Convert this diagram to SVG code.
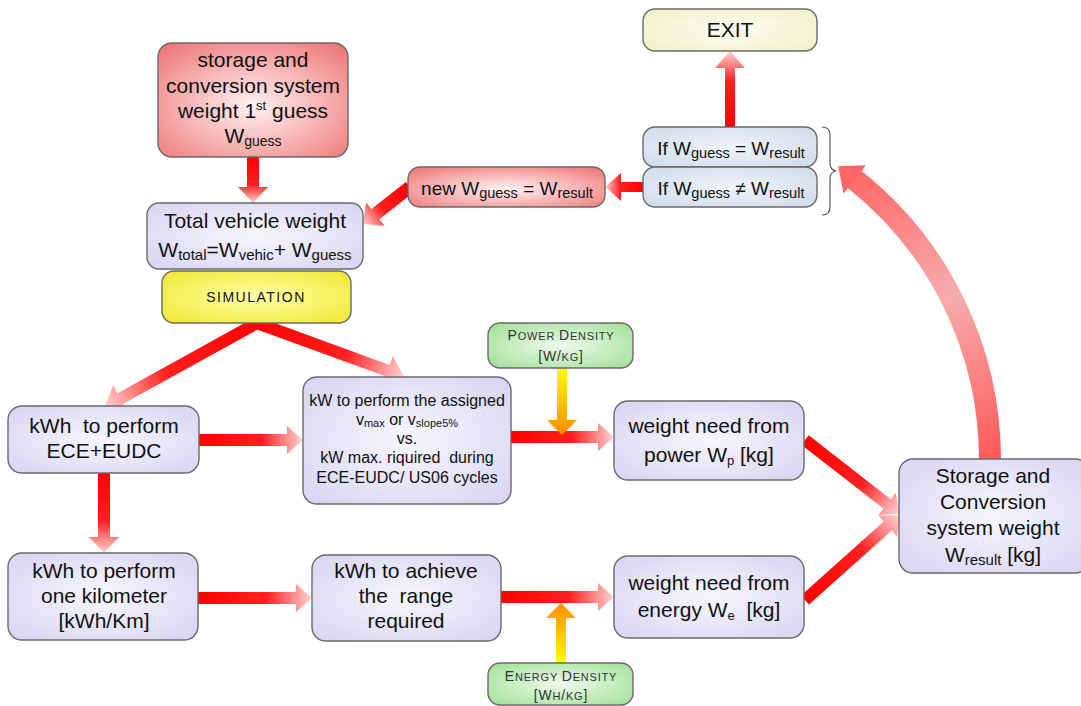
<svg xmlns="http://www.w3.org/2000/svg" width="1081" height="706" viewBox="0 0 1081 706">
<style>
text{font-family:"Liberation Sans",Arial,sans-serif;fill:#111;text-anchor:middle}
.t21{font-size:21px}
.t19{font-size:19px}
.t16{font-size:16px}
.sc{font-size:14px;fill:#333;letter-spacing:0.8px}
.box{stroke:#6a6a6a;stroke-width:1.4}
.lav{fill:url(#gLav)}
.red{fill:url(#gRed)}
.blu{fill:url(#gBlu)}
.grn{fill:url(#gGrn)}
.ra{fill:url(#gArr)}
.ya{fill:url(#gYel)}
</style>
<defs>
<radialGradient id="gLav" cx="50%" cy="50%" r="70%"><stop offset="0" stop-color="#f8f7fe"/><stop offset="1" stop-color="#d6d4f2"/></radialGradient>
<radialGradient id="gRed" cx="50%" cy="55%" r="70%"><stop offset="0" stop-color="#fff1f1"/><stop offset="0.55" stop-color="#f7b0b0"/><stop offset="1" stop-color="#ee7676"/></radialGradient>
<radialGradient id="gBlu" cx="50%" cy="50%" r="70%"><stop offset="0" stop-color="#f0f3f9"/><stop offset="1" stop-color="#cfdbea"/></radialGradient>
<radialGradient id="gGrn" cx="50%" cy="50%" r="70%"><stop offset="0" stop-color="#eefaec"/><stop offset="1" stop-color="#9fe094"/></radialGradient>
<radialGradient id="gYlw" cx="50%" cy="50%" r="70%"><stop offset="0" stop-color="#ffffa8"/><stop offset="1" stop-color="#f0e830"/></radialGradient>
<radialGradient id="gExit" cx="50%" cy="50%" r="70%"><stop offset="0" stop-color="#fdfdf0"/><stop offset="1" stop-color="#eef0c6"/></radialGradient>
<linearGradient id="gArr" x1="0" y1="0" x2="1" y2="0"><stop offset="0" stop-color="#ff0000"/><stop offset="0.6" stop-color="#ff2020"/><stop offset="1" stop-color="#ffd4d4"/></linearGradient>
<linearGradient id="gYel" x1="0" y1="0" x2="1" y2="0"><stop offset="0" stop-color="#ffff00"/><stop offset="1" stop-color="#ff8a00"/></linearGradient>
<linearGradient id="gArc" gradientUnits="userSpaceOnUse" x1="990" y1="459" x2="840" y2="172"><stop offset="0" stop-color="#ff5a5a"/><stop offset="0.5" stop-color="#f6adad"/><stop offset="1" stop-color="#ff6464"/></linearGradient>
</defs>

<g id="connectors">
<path class="ra" transform="translate(253,157) rotate(90)" d="M0,-6 H30 V-15 L46,0 L30,15 V6 H0 Z"/>
<path class="ra" transform="translate(257,323) rotate(151.1)" d="M0,-6 H156 V-15 L174,0 L156,15 V6 H0 Z"/>
<path class="ra" transform="translate(257,323) rotate(20.05)" d="M0,-6 H139 V-15 L157,0 L139,15 V6 H0 Z"/>
<path class="ra" transform="translate(199,440)" d="M0,-6 H88 V-14 L104,0 L88,14 V6 H0 Z"/>
<path class="ra" transform="translate(104,473) rotate(90)" d="M0,-6 H64 V-15 L80,0 L64,15 V6 H0 Z"/>
<path class="ra" transform="translate(198,598)" d="M0,-6 H98 V-14 L114,0 L98,14 V6 H0 Z"/>
<path class="ra" transform="translate(511,437)" d="M0,-6 H87 V-14 L103,0 L87,14 V6 H0 Z"/>
<path class="ra" transform="translate(501,597)" d="M0,-6 H97 V-14 L113,0 L97,14 V6 H0 Z"/>
<path class="ra" transform="translate(805,440) rotate(37.9)" d="M0,-6 H104 V-14 L120,0 L104,14 V6 H0 Z"/>
<path class="ra" transform="translate(805,600) rotate(-41.8)" d="M0,-6 H111 V-14 L127,0 L111,14 V6 H0 Z"/>
<path class="ra" transform="translate(643,187) rotate(180)" d="M0,-5 H22 V-14 L38,0 L22,14 V5 H0 Z"/>
<path class="ra" transform="translate(730,127) rotate(-90)" d="M0,-5 H59 V-15 L76,0 L59,15 V5 H0 Z"/>
<path class="ra" transform="translate(410,187) rotate(141.8)" d="M0,-6.5 H44 V-15 L60,0 L44,15 V6.5 H0 Z"/>
<path class="ya" transform="translate(562,368) rotate(90)" d="M0,-5 H52 V-15 L67,0 L52,15 V5 H0 Z"/>
<path class="ya" transform="translate(561,663) rotate(-90)" d="M0,-5 H45 V-15 L60,0 L45,15 V5 H0 Z"/>
<path d="M990,459 A358,358 0 0 0 853.9,178.8" fill="none" stroke="url(#gArc)" stroke-width="22"/>
<polygon points="838.2,166.3 866,165.3 843.5,193.6" fill="#ff6464"/>
<path d="M822,127 Q830,127 830,135 V163 Q830,170 836,171 Q830,172 830,179 V207 Q830,215 822,215" fill="none" stroke="#555" stroke-width="1.2"/>
</g>

<g id="n-guess">
<rect class="box red" x="158" y="43" width="190" height="114" rx="14"/>
<text class="t21" x="253" y="67">storage and</text>
<text class="t21" x="253" y="93">conversion system</text>
<text class="t21" x="253" y="118">weight 1<tspan font-size="13" dy="-8">st</tspan><tspan dy="8"> guess</tspan></text>
<text class="t21" x="253" y="143">W<tspan font-size="14" dy="3">guess</tspan></text>
</g>

<g id="n-total">
<rect class="box lav" x="147" y="203" width="216" height="66" rx="12"/>
<text class="t21" x="255" y="228">Total vehicle weight</text>
<text class="t21" x="255" y="257">W<tspan font-size="15" dy="3">total</tspan><tspan dy="-3">=W</tspan><tspan font-size="15" dy="3">vehic</tspan><tspan dy="-3">+ W</tspan><tspan font-size="15" dy="3">guess</tspan></text>
</g>

<g id="n-sim">
<rect class="box" fill="url(#gYlw)" x="162" y="271" width="189" height="52" rx="12"/>
<text x="256" y="302" font-size="14" letter-spacing="1.5" fill="#222">SIMULATION</text>
</g>

<g id="n-exit">
<rect class="box" fill="url(#gExit)" x="643" y="9" width="174" height="42" rx="12"/>
<text class="t21" x="730" y="37">EXIT</text>
</g>

<g id="n-if-eq">
<rect class="box blu" x="643" y="127" width="174" height="40" rx="12"/>
<text class="t19" x="731" y="155">If W<tspan font-size="14.5" dy="3">guess</tspan><tspan dy="-3"> = W</tspan><tspan font-size="14.5" dy="3">result</tspan></text>
</g>

<g id="n-if-neq">
<rect class="box blu" x="643" y="167" width="174" height="40" rx="12"/>
<text class="t19" x="731" y="195">If W<tspan font-size="14.5" dy="3">guess</tspan><tspan dy="-3"> ≠ W</tspan><tspan font-size="14.5" dy="3">result</tspan></text>
</g>

<g id="n-new">
<rect class="box red" x="408" y="167" width="197" height="40" rx="12"/>
<text class="t19" x="507" y="195">new W<tspan font-size="14.5" dy="3">guess</tspan><tspan dy="-3"> = W</tspan><tspan font-size="14.5" dy="3">result</tspan></text>
</g>

<g id="n-ece">
<rect class="box lav" x="8" y="406" width="191" height="67" rx="14"/>
<text class="t21" x="104" y="433" xml:space="preserve">kWh  to perform</text>
<text class="t21" x="104" y="458">ECE+EUDC</text>
</g>

<g id="n-km">
<rect class="box lav" x="8" y="553" width="190" height="87" rx="14"/>
<text class="t21" x="104" y="578">kWh to perform</text>
<text class="t21" x="104" y="603">one kilometer</text>
<text class="t21" x="104" y="628">[kWh/Km]</text>
</g>

<g id="n-kw">
<rect class="box lav" x="303" y="377" width="208" height="127" rx="14"/>
<text class="t16" x="407" y="406">kW to perform the assigned</text>
<text class="t16" x="407" y="425">v<tspan font-size="11" dy="2">max</tspan><tspan dy="-2"> or v</tspan><tspan font-size="11" dy="2">slope5%</tspan></text>
<text class="t16" x="407" y="444">vs.</text>
<text class="t16" x="407" y="463" xml:space="preserve">kW max. riquired  during</text>
<text class="t16" x="407" y="483">ECE-EUDC/ US06 cycles</text>
</g>

<g id="n-range">
<rect class="box lav" x="312" y="555" width="189" height="86" rx="14"/>
<text class="t21" x="406" y="578">kWh to achieve</text>
<text class="t21" x="406" y="603" xml:space="preserve">the  range</text>
<text class="t21" x="406" y="628">required</text>
</g>

<g id="n-power-density">
<rect class="box grn" x="488" y="323" width="145" height="45" rx="12"/>
<text class="sc" x="561" y="340">P<tspan font-size="11">OWER </tspan>D<tspan font-size="11">ENSITY</tspan></text>
<text class="sc" x="561" y="361">[W/<tspan font-size="11">KG</tspan>]</text>
</g>

<g id="n-energy-density">
<rect class="box grn" x="488" y="663" width="145" height="42" rx="12"/>
<text class="sc" x="561" y="681">E<tspan font-size="11">NERGY </tspan>D<tspan font-size="11">ENSITY</tspan></text>
<text class="sc" x="561" y="700">[W<tspan font-size="11">H</tspan>/<tspan font-size="11">KG</tspan>]</text>
</g>

<g id="n-wp">
<rect class="box lav" x="614" y="401" width="190" height="79" rx="14"/>
<text class="t21" x="709" y="433">weight need from</text>
<text class="t21" x="709" y="462">power W<tspan font-size="13" dy="3">p</tspan><tspan dy="-3"> [kg]</tspan></text>
</g>

<g id="n-we">
<rect class="box lav" x="614" y="556" width="190" height="82" rx="14"/>
<text class="t21" x="709" y="590">weight need from</text>
<text class="t21" x="709" y="617" xml:space="preserve">energy W<tspan font-size="13" dy="3">e</tspan><tspan dy="-3">  [kg]</tspan></text>
</g>

<g id="n-result">
<rect class="box lav" x="899" y="459" width="190" height="114" rx="14"/>
<text class="t21" x="993" y="483">Storage and</text>
<text class="t21" x="993" y="509">Conversion</text>
<text class="t21" x="993" y="535">system weight</text>
<text class="t21" x="993" y="562">W<tspan font-size="15" dy="3">result</tspan><tspan dy="-3"> [kg]</tspan></text>
</g>
</svg>
